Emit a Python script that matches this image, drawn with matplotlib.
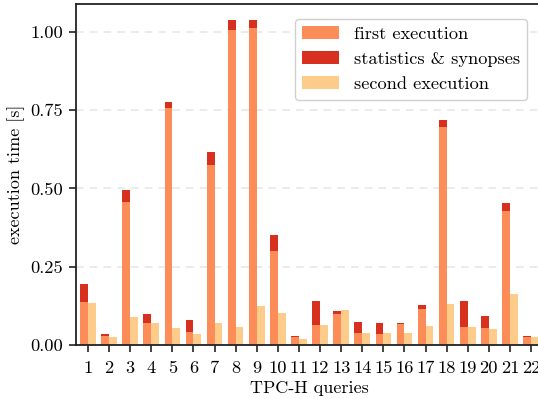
import matplotlib
matplotlib.use("Agg")
import matplotlib.pyplot as plt
import numpy as np

# Data (seconds)
queries = [str(i) for i in range(1, 23)]
first_exec = [0.137, 0.029, 0.457, 0.070, 0.757, 0.042, 0.575, 1.006, 1.013, 0.300, 0.026,
              0.064, 0.099, 0.038, 0.035, 0.067, 0.115, 0.696, 0.058, 0.054, 0.428, 0.026]
stats_synopses = [0.058, 0.006, 0.038, 0.029, 0.019, 0.038, 0.042, 0.032, 0.025, 0.051, 0.003,
                  0.077, 0.010, 0.035, 0.035, 0.003, 0.013, 0.023, 0.083, 0.039, 0.026, 0.003]
second_exec = [0.134, 0.026, 0.089, 0.070, 0.054, 0.035, 0.070, 0.058, 0.125, 0.102, 0.019,
               0.064, 0.112, 0.038, 0.038, 0.038, 0.061, 0.131, 0.058, 0.051, 0.163, 0.026]

# Fonte estilo LaTeX
plt.rcParams['font.family'] = 'serif'
plt.rcParams['font.serif'] = ['cmr10']
plt.rcParams['mathtext.fontset'] = 'cm'
plt.rcParams['axes.formatter.use_mathtext'] = True

c_first = '#fc8d59'
c_stats = '#d7301f'
c_second = '#fdcc8a'

fig = plt.figure(figsize=(5.38, 3.99), dpi=100)
ax = fig.add_axes([76 / 538, 54 / 399, 467 / 538, 341 / 399])

x = np.arange(1, len(queries) + 1)
w = 0.37

ax.bar(x - w / 2, first_exec, w, color=c_first, label='first execution', zorder=2)
ax.bar(x - w / 2, stats_synopses, w, bottom=first_exec, color=c_stats,
       label='statistics & synopses', zorder=2)
ax.bar(x + w / 2, second_exec, w, color=c_second, label='second execution', zorder=2)

# Eixos
ax.set_xlim(0.43, 22.57)
ax.set_ylim(0, 1.089)
ax.set_xticks(x)
ax.set_xticklabels(queries)
ax.set_yticks([0, 0.25, 0.5, 0.75, 1.0])
ax.set_yticklabels(['0.00', '0.25', '0.50', '0.75', '1.00'])
ax.tick_params(labelsize=13.3, length=5, width=1.2, color='#222222')
ax.tick_params(axis='x', pad=6.5)
ax.tick_params(axis='y', pad=4.5)
ax.set_xlabel('TPC-H queries', fontsize=13, labelpad=3)
ax.set_ylabel('execution time [s]', fontsize=13, labelpad=3.5)

ax.grid(axis='y', linestyle=(0, (5, 4)), color='#e6e6e6', linewidth=1.1, zorder=0)
ax.set_axisbelow(True)
for s in ax.spines.values():
    s.set_linewidth(1.3)
    s.set_color('#222222')

ax.legend(loc='upper right', bbox_to_anchor=(527 / 538, 1 - 19 / 399),
          bbox_transform=fig.transFigure, borderaxespad=0, fontsize=13.2,
          handlelength=2.0, framealpha=1, edgecolor='#d0d0d0')

fig.savefig('out.png', dpi=100)
